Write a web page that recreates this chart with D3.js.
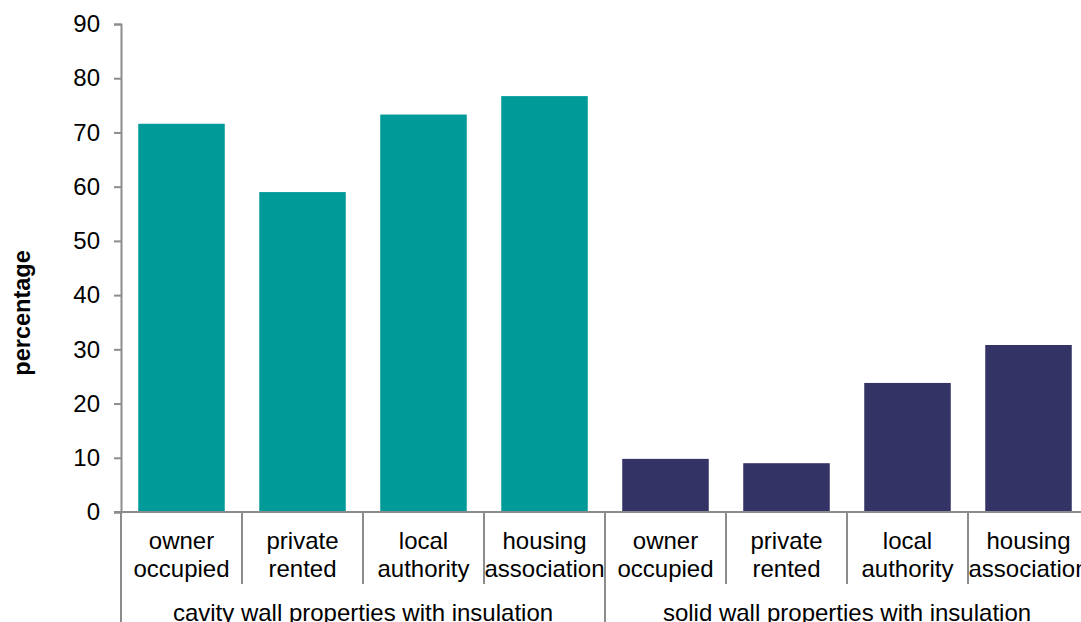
<!DOCTYPE html>
<html>
<head>
<meta charset="utf-8">
<script src="https://cdn.jsdelivr.net/npm/d3@7"></script>
<style>
  body { margin: 0; background: #fff; }
  svg { display: block; font-family: "Liberation Sans", Arial, sans-serif; }
</style>
</head>
<body>
<div id="main"></div>
<script>
// tenure categories, two lines each
const tenures = [['owner', 'occupied'], ['private', 'rented'], ['local', 'authority'], ['housing', 'association']];
const groups = ['cavity wall properties with insulation', 'solid wall properties with insulation'];
const cavityValues = [71.6, 59.0, 73.3, 76.7];
const solidValues = [9.8, 9.0, 23.8, 30.8];
const yTicks = [0, 10, 20, 30, 40, 50, 60, 70, 80, 90];
const groupColors = ['#009a98', '#333366'];

const width = 1081, height = 622;
const margin = { top: 24, left: 121, bottom: 110 };
const step = 121;

const rows = [];
groups.forEach((g, gi) => {
  const vals = gi === 0 ? cavityValues : solidValues;
  tenures.forEach((t, ti) => {
    rows.push({ key: gi + '-' + ti, group: gi, label: t, value: vals[ti] });
  });
});

const svg = d3.select('#main').append('svg')
  .attr('width', width)
  .attr('height', height);

const x = d3.scaleBand()
  .domain(rows.map(d => d.key))
  .range([margin.left, margin.left + step * rows.length])
  .paddingInner(0.285)
  .paddingOuter(0.1425);

const y = d3.scaleLinear()
  .domain([0, 90])
  .range([height - margin.bottom, margin.top]);

const axisColor = '#8c8c8c';
const y0 = y(0);

// bars
svg.selectAll('.bar')
  .data(rows)
  .enter().append('rect')
  .attr('class', 'bar')
  .attr('x', d => x(d.key))
  .attr('width', x.bandwidth())
  .attr('y', d => y(d.value))
  .attr('height', d => y0 - y(d.value))
  .attr('fill', d => groupColors[d.group]);

// y axis
const yAxis = svg.append('g')
  .attr('transform', 'translate(' + margin.left + ',0)')
  .call(d3.axisLeft(y).tickValues(yTicks).tickSize(7).tickPadding(14));
yAxis.select('.domain').attr('stroke', axisColor).attr('stroke-width', 2);
yAxis.selectAll('.tick line').attr('stroke', axisColor).attr('stroke-width', 2);
yAxis.selectAll('.tick text')
  .attr('fill', '#000')
  .style('font-size', '24px')
  .style('font-family', '"Liberation Sans", Arial, sans-serif');

// x axis baseline
svg.append('line')
  .attr('x1', margin.left - 7).attr('x2', width)
  .attr('y1', y0).attr('y2', y0)
  .attr('stroke', axisColor).attr('stroke-width', 2);

// category separators
const bounds = d3.range(rows.length + 1).map(i => margin.left + i * step);
svg.selectAll('.sep')
  .data(bounds)
  .enter().append('line')
  .attr('class', 'sep')
  .attr('x1', d => d).attr('x2', d => d)
  .attr('y1', y0)
  .attr('y2', (d, i) => i % tenures.length === 0 ? height : y0 + 72)
  .attr('stroke', axisColor).attr('stroke-width', 2);

// category labels
const catLabels = svg.selectAll('.cat')
  .data(rows)
  .enter().append('text')
  .attr('class', 'cat')
  .attr('text-anchor', 'middle')
  .style('font-size', '24px')
  .attr('fill', '#000');
catLabels.selectAll('tspan')
  .data(d => d.label.map(l => ({ l: l, cx: x(d.key) + x.bandwidth() / 2 })))
  .enter().append('tspan')
  .attr('x', d => d.cx)
  .attr('y', (d, i) => y0 + 37 + i * 28)
  .text(d => d.l);

// group labels
svg.selectAll('.grp')
  .data(groups)
  .enter().append('text')
  .attr('class', 'grp')
  .attr('text-anchor', 'middle')
  .attr('x', (d, i) => margin.left + (i + 0.5) * step * tenures.length)
  .attr('y', height - 1)
  .style('font-size', '24px')
  .attr('fill', '#000')
  .text(d => d);

// y axis title
svg.append('text')
  .attr('transform', 'translate(30,313) rotate(-90)')
  .attr('text-anchor', 'middle')
  .style('font-size', '23.5px')
  .style('font-weight', 'bold')
  .attr('fill', '#000')
  .text('percentage');
</script>
</body>
</html>
